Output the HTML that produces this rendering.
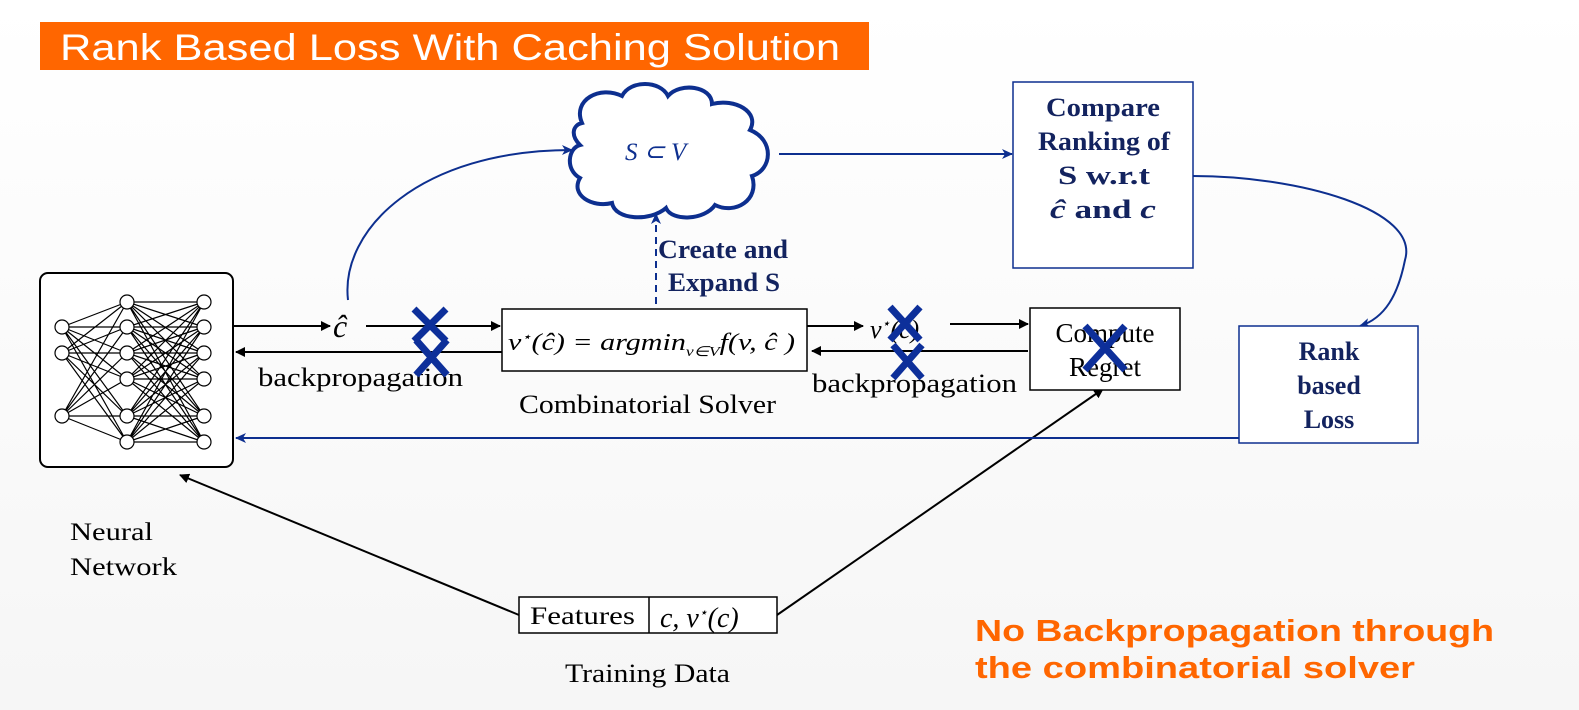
<!DOCTYPE html>
<html><head><meta charset="utf-8"><style>
body{margin:0;background:#fff;}
svg{display:block}
text{font-family:"Liberation Serif",serif;}
.b{font-family:"Liberation Serif",serif;font-weight:bold;fill:#13235f;font-size:26px}
</style></head><body>
<svg width="1579" height="710" viewBox="0 0 1579 710" xmlns="http://www.w3.org/2000/svg">
<defs>
<marker id="ak" markerWidth="10" markerHeight="10" refX="9" refY="5" orient="auto" markerUnits="userSpaceOnUse"><path d="M0,0 L10,5 L0,10 z" fill="#000"/></marker>
<marker id="ab" markerWidth="12" markerHeight="10" refX="10" refY="5" orient="auto" markerUnits="userSpaceOnUse"><path d="M0,0 L11,5 L0,10 L3,5 z" fill="#0d2f8f"/></marker>
<linearGradient id="bg" x1="0" y1="0" x2="0" y2="1"><stop offset="0" stop-color="#fff"/><stop offset="1" stop-color="#f6f6f6"/></linearGradient>
</defs>
<rect width="1579" height="710" fill="url(#bg)"/>
<rect x="40" y="22" width="829" height="48" fill="#ff6600"/>
<text x="60" y="60" fill="#fff" font-size="37" textLength="780" lengthAdjust="spacingAndGlyphs" style="font-family:'Liberation Sans',sans-serif">Rank Based Loss With Caching Solution</text>

<rect x="40" y="273" width="193" height="194" rx="8" fill="#fff" stroke="#000" stroke-width="2"/>
<g stroke="#000" stroke-width="1.2">
<path d="M62,327L127,302M62,327L127,327M62,327L127,353M62,327L127,379M62,327L127,416M62,327L127,442M62,353L127,302M62,353L127,327M62,353L127,353M62,353L127,379M62,353L127,416M62,353L127,442M62,416L127,302M62,416L127,327M62,416L127,353M62,416L127,379M62,416L127,416M62,416L127,442"/>
<path d="M127,302L204,302M127,302L204,327M127,302L204,353M127,302L204,379M127,302L204,416M127,302L204,442M127,327L204,302M127,327L204,327M127,327L204,353M127,327L204,379M127,327L204,416M127,327L204,442M127,353L204,302M127,353L204,327M127,353L204,353M127,353L204,379M127,353L204,416M127,353L204,442M127,379L204,302M127,379L204,327M127,379L204,353M127,379L204,379M127,379L204,416M127,379L204,442M127,416L204,302M127,416L204,327M127,416L204,353M127,416L204,379M127,416L204,416M127,416L204,442M127,442L204,302M127,442L204,327M127,442L204,353M127,442L204,379M127,442L204,416M127,442L204,442"/>
</g>
<g fill="#fff" stroke="#000" stroke-width="1.2">
<circle cx="62" cy="327" r="7"/><circle cx="62" cy="353" r="7"/><circle cx="62" cy="416" r="7"/>
<circle cx="127" cy="302" r="7"/><circle cx="127" cy="327" r="7"/><circle cx="127" cy="353" r="7"/><circle cx="127" cy="379" r="7"/><circle cx="127" cy="416" r="7"/><circle cx="127" cy="442" r="7"/>
<circle cx="204" cy="302" r="7"/><circle cx="204" cy="327" r="7"/><circle cx="204" cy="353" r="7"/><circle cx="204" cy="379" r="7"/><circle cx="204" cy="416" r="7"/><circle cx="204" cy="442" r="7"/>
</g>
<text x="70" y="540" font-size="25" textLength="83" lengthAdjust="spacingAndGlyphs">Neural</text>
<text x="70" y="575" font-size="25" textLength="107" lengthAdjust="spacingAndGlyphs">Network</text>

<g stroke="#000" stroke-width="2" fill="none">
<line x1="234" y1="326" x2="330" y2="326" marker-end="url(#ak)"/>
<line x1="366" y1="326" x2="500" y2="326" marker-end="url(#ak)"/>
<line x1="502" y1="352" x2="236" y2="352" marker-end="url(#ak)"/>
<line x1="807" y1="326" x2="863" y2="326" marker-end="url(#ak)"/>
<line x1="950" y1="324" x2="1028" y2="324" marker-end="url(#ak)"/>
<line x1="1028" y1="351" x2="812" y2="351" marker-end="url(#ak)"/>
<line x1="519" y1="615" x2="180" y2="475" marker-end="url(#ak)"/>
<line x1="777" y1="615" x2="1103" y2="389" marker-end="url(#ak)"/>
</g>
<text x="333" y="337" font-size="32" font-style="italic">ĉ</text>
<text x="258" y="386" font-size="26" textLength="205" lengthAdjust="spacingAndGlyphs">backpropagation</text>

<rect x="502" y="309" width="305" height="62" fill="#fff" stroke="#000" stroke-width="1.5"/>
<text x="508" y="350" font-size="24" font-style="italic" textLength="287" lengthAdjust="spacingAndGlyphs">v<tspan font-size="13" dy="-9">⋆</tspan><tspan dy="9">(ĉ) = argmin</tspan><tspan font-size="14" dy="6">v∈V</tspan><tspan dy="-6">f(v, ĉ )</tspan></text>
<text x="519" y="413" font-size="26" textLength="257" lengthAdjust="spacingAndGlyphs">Combinatorial Solver</text>

<text x="870" y="338" font-size="26" font-style="italic">v<tspan font-size="14" dy="-10">⋆</tspan><tspan dy="10">(ĉ)</tspan></text>
<text x="812" y="392" font-size="26" textLength="205" lengthAdjust="spacingAndGlyphs">backpropagation</text>
<rect x="1030" y="308" width="150" height="82" fill="#fff" stroke="#000" stroke-width="1.5"/>
<text x="1105" y="342" font-size="27" text-anchor="middle">Compute</text>
<text x="1105" y="376" font-size="27" text-anchor="middle">Regret</text>

<rect x="519" y="597" width="258" height="36" fill="#fff" stroke="#000" stroke-width="1.5"/>
<line x1="649" y1="597" x2="649" y2="633" stroke="#000" stroke-width="1.5"/>
<text x="530" y="624" font-size="25" textLength="105" lengthAdjust="spacingAndGlyphs">Features</text>
<text x="660" y="627" font-size="28" font-style="italic">c, v<tspan font-size="14" dy="-10">⋆</tspan><tspan dy="10">(c)</tspan></text>
<text x="565" y="682" font-size="26" textLength="165" lengthAdjust="spacingAndGlyphs">Training Data</text>

<g stroke="#0d2f8f" stroke-width="2" fill="none">
<path d="M348,300 C340,230 420,150 572,150" marker-end="url(#ab)"/>
<line x1="779" y1="154" x2="1012" y2="154" marker-end="url(#ab)"/>
<path d="M1193,176 C1300,176 1420,210 1405,260 C1398,295 1385,318 1360,326" marker-end="url(#ab)"/>
<line x1="1239" y1="438" x2="236" y2="438" marker-end="url(#ab)"/>
<line x1="656" y1="304" x2="656" y2="214" stroke-dasharray="7,5" marker-end="url(#ab)"/>
</g>
<path d="M582,123 C572,100 600,85 622,96 C630,80 660,80 668,96 C680,82 712,86 712,104 C735,98 760,112 750,130 C775,140 772,170 752,176 C760,200 735,215 715,205 C705,220 672,222 666,208 C650,222 615,220 612,203 C592,208 570,195 580,178 C565,170 568,148 580,145 C570,135 573,125 582,123 Z" fill="#fff" stroke="#0d2f8f" stroke-width="4"/>
<text x="625" y="160" font-size="25" font-style="italic" fill="#0d2f8f">S ⊂ V</text>
<text class="b" x="658" y="258" textLength="130" lengthAdjust="spacingAndGlyphs">Create and</text>
<text class="b" x="668" y="291" textLength="112" lengthAdjust="spacingAndGlyphs">Expand S</text>

<rect x="1013" y="82" width="180" height="186" fill="#fff" stroke="#0d2f8f" stroke-width="1.5"/>
<text class="b" x="1046" y="116" textLength="114" lengthAdjust="spacingAndGlyphs">Compare</text>
<text class="b" x="1038" y="150" textLength="132" lengthAdjust="spacingAndGlyphs">Ranking of</text>
<text class="b" x="1058" y="184" textLength="92" lengthAdjust="spacingAndGlyphs">S w.r.t</text>
<text class="b" x="1050" y="218" textLength="106" lengthAdjust="spacingAndGlyphs"><tspan font-style="italic">ĉ</tspan> and <tspan font-style="italic">c</tspan></text>
<rect x="1239" y="326" width="179" height="117" fill="#fff" stroke="#0d2f8f" stroke-width="1.5"/>
<text class="b" x="1329" y="360" text-anchor="middle">Rank</text>
<text class="b" x="1329" y="394" text-anchor="middle">based</text>
<text class="b" x="1329" y="428" text-anchor="middle">Loss</text>

<g stroke="#0d2f9a" stroke-width="7">
<path d="M414,309L446,341M446,309L414,341"/>
<path d="M416,340L447,375M447,340L416,375"/>
<path d="M890,307L920,340M920,307L890,340"/>
<path d="M893,345L922,378M922,345L893,378"/>
<path d="M1085,326L1125,370M1125,326L1085,370"/>
</g>

<text x="975" y="641" font-size="31" font-weight="bold" fill="#ff6600" textLength="519" lengthAdjust="spacingAndGlyphs" style="font-family:'Liberation Sans',sans-serif">No Backpropagation through</text>
<text x="975" y="678" font-size="31" font-weight="bold" fill="#ff6600" textLength="440" lengthAdjust="spacingAndGlyphs" style="font-family:'Liberation Sans',sans-serif">the combinatorial solver</text>
</svg>
</body></html>
